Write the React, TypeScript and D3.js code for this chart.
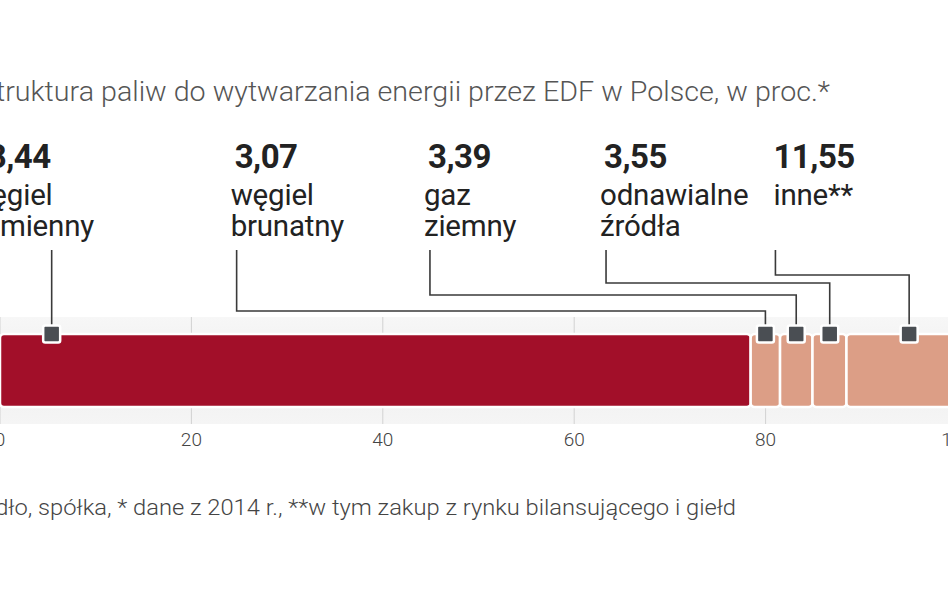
import React from 'react';
import * as d3 from 'd3';

// dane z wykresu
const categories = ['węgiel kamienny', 'węgiel brunatny', 'gaz ziemny', 'odnawialne źródła', 'inne**'];
const shares = [78.44, 3.07, 3.39, 3.55, 11.55];
const valueLabels = ['78,44', '3,07', '3,39', '3,55', '11,55'];
const labelLines = [['węgiel', 'kamienny'], ['węgiel', 'brunatny'], ['gaz', 'ziemny'], ['odnawialne', 'źródła'], ['inne**']];
// gdzie stoi znacznik na pasku (w proc.)
const markerAt = [5.4, 79.98, 83.2, 86.7, 95];
// gdzie zaczyna się podpis (w proc.)
const labelAt = [-3.2, 24.1, 44.3, 62.7, 80.4];
const ticks = [0, 20, 40, 60, 80, 100];

const W = 948;
const H = 593;

const App: React.FC = () => {
  const x = d3.scaleLinear().domain([0, 100]).range([0, 957]);

  const barTop = 334;
  const barH = 73;
  const bandTop = 317;
  const bandBottom = 424;

  let acc = 0;
  const segs = shares.map((v, i) => {
    const s = { x0: acc, x1: acc + v, i };
    acc += v;
    return s;
  });

  // wysokości załamania linii prowadzących
  const elbowY = [null, 311, 295, 283, 275];

  return (
    <svg width={W} height={H} style={{ position: 'absolute', left: 0, top: 0, background: '#fff' }}>
      <defs>
        <linearGradient id="band" x1="0" x2="0" y1="0" y2="1">
          <stop offset="0" stopColor="#f7f7f7" />
          <stop offset="0.5" stopColor="#efefef" />
          <stop offset="1" stopColor="#f5f5f5" />
        </linearGradient>
      </defs>

      <text x={-21} y={101} fontFamily="Roboto" fontWeight={300} fontSize={28.5} fill="#555" textLength={851} lengthAdjust="spacingAndGlyphs">
        Struktura paliw do wytwarzania energii przez EDF w Polsce, w proc.*
      </text>

      {/* tło pod paskiem */}
      <rect x={0} y={bandTop} width={W} height={bandBottom - bandTop} fill="url(#band)" />
      {ticks.map((t) => (
        <line key={t} x1={x(t)} x2={x(t)} y1={bandTop} y2={bandBottom} stroke="#d2d2d2" strokeWidth={1} />
      ))}

      {segs.map((s) => (
        <rect
          key={s.i}
          x={x(s.x0)}
          y={barTop}
          width={x(s.x1) - x(s.x0)}
          height={barH}
          rx={4}
          fill={s.i === 0 ? '#a20f29' : '#dc9e86'}
          stroke="#fff"
          strokeWidth={2.5}
        />
      ))}

      {/* linie prowadzące */}
      {categories.map((c, i) => {
        const lx = x(labelAt[i]) + 6;
        const mx = x(markerAt[i]);
        const ey = elbowY[i];
        const d = ey === null
          ? `M${mx},250 V${barTop}`
          : `M${lx},250 V${ey} H${mx} V${barTop}`;
        return <path key={c} d={d} fill="none" stroke="#3a3a3a" strokeWidth={1.6} />;
      })}

      {markerAt.map((m, i) => (
        <rect key={i} x={x(m) - 8.5} y={barTop - 8.5} width={17} height={17} rx={2} fill="#4a4e53" stroke="#fff" strokeWidth={2.5} />
      ))}

      {/* podpisy */}
      {categories.map((c, i) => (
        <g key={c} transform={`translate(${x(labelAt[i])},0)`}>
          <text x={i === 0 ? 0 : 4} y={168} fontFamily="Roboto" fontWeight={700} fontSize={33} fill="#222" letterSpacing={-0.5}>
            {valueLabels[i]}
          </text>
          {labelLines[i].map((l, j) => (
            <text key={j} x={i === 4 ? 4 : 0} y={205 + j * 31} fontFamily="Roboto" fontSize={29.5} fill="#222" letterSpacing={-0.2}>
              {l}
            </text>
          ))}
        </g>
      ))}

      {ticks.map((t) => (
        <text key={t} x={x(t)} y={446} textAnchor="middle" fontFamily="Roboto" fontWeight={300} fontSize={19} fill="#444">
          {t}
        </text>
      ))}

      <text x={-40} y={515} fontFamily="Roboto" fontWeight={300} fontSize={22} fill="#444" textLength={776} lengthAdjust="spacingAndGlyphs">
        Źródło, spółka, * dane z 2014 r., **w tym zakup z rynku bilansującego i giełd
      </text>
    </svg>
  );
};

export default App;
